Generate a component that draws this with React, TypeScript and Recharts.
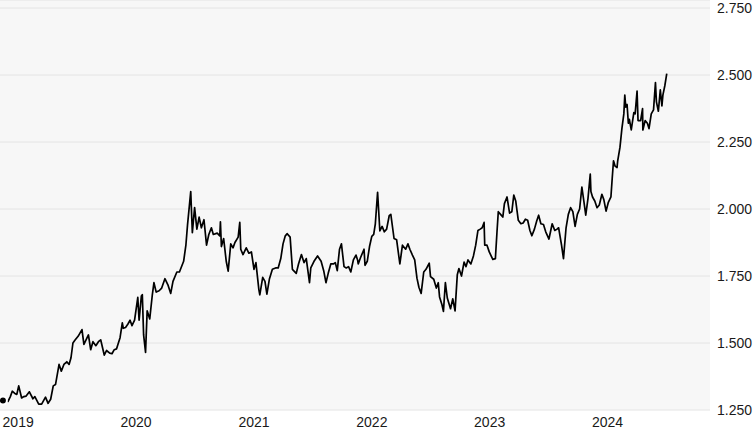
import { LineChart, Line, XAxis, YAxis, CartesianGrid } from "recharts";

// daily closes thinned out, price in thousands
const dates = [
  "2019-01-02", "2019-01-10", "2019-01-18", "2019-01-25", "2019-01-31", "2019-02-08", "2019-02-14", "2019-02-20",
  "2019-03-01", "2019-03-08", "2019-03-15", "2019-03-25", "2019-04-05", "2019-04-11", "2019-04-23", "2019-05-02",
  "2019-05-14", "2019-05-22", "2019-05-30", "2019-06-07", "2019-06-14", "2019-06-25", "2019-07-02", "2019-07-10",
  "2019-07-19", "2019-07-26", "2019-08-01", "2019-08-07", "2019-08-13", "2019-08-23", "2019-09-04", "2019-09-10",
  "2019-09-24", "2019-10-01", "2019-10-08", "2019-10-17", "2019-10-25", "2019-11-01", "2019-11-12", "2019-11-19",
  "2019-11-29", "2019-12-06", "2019-12-13", "2019-12-20", "2019-12-31",
  "2020-01-07", "2020-01-10", "2020-01-17", "2020-01-24", "2020-01-31", "2020-02-06", "2020-02-14", "2020-02-24",
  "2020-02-28", "2020-03-06", "2020-03-09", "2020-03-13", "2020-03-19", "2020-03-24", "2020-04-01", "2020-04-09",
  "2020-04-14", "2020-04-21", "2020-04-30", "2020-05-08", "2020-05-18", "2020-05-28", "2020-06-05", "2020-06-12",
  "2020-06-24", "2020-07-02", "2020-07-15", "2020-07-22", "2020-07-27", "2020-08-06", "2020-08-11", "2020-08-18",
  "2020-08-25", "2020-09-01", "2020-09-08", "2020-09-16", "2020-09-24", "2020-10-01", "2020-10-09", "2020-10-15",
  "2020-10-27", "2020-11-04", "2020-11-06", "2020-11-09", "2020-11-16", "2020-11-24", "2020-11-30", "2020-12-08",
  "2020-12-15", "2020-12-21", "2020-12-31",
  "2021-01-05", "2021-01-08", "2021-01-15", "2021-01-25", "2021-02-02", "2021-02-10", "2021-02-18", "2021-02-24",
  "2021-03-05", "2021-03-08", "2021-03-17", "2021-03-24", "2021-03-30", "2021-04-07", "2021-04-16", "2021-04-26",
  "2021-05-04", "2021-05-12", "2021-05-19", "2021-05-26", "2021-06-01", "2021-06-10", "2021-06-17", "2021-06-29",
  "2021-07-06", "2021-07-15", "2021-07-23", "2021-07-30", "2021-08-09", "2021-08-13", "2021-08-23", "2021-09-03",
  "2021-09-14", "2021-09-22", "2021-09-29", "2021-10-06", "2021-10-14", "2021-10-22", "2021-10-28", "2021-11-03",
  "2021-11-10", "2021-11-16", "2021-11-24", "2021-12-01", "2021-12-08", "2021-12-15", "2021-12-23", "2021-12-31",
  "2022-01-05", "2022-01-07", "2022-01-14", "2022-01-25", "2022-01-28", "2022-02-04", "2022-02-11", "2022-02-18",
  "2022-02-24", "2022-03-01", "2022-03-08", "2022-03-15", "2022-03-22", "2022-03-29", "2022-04-05", "2022-04-13",
  "2022-04-18", "2022-04-28", "2022-05-06", "2022-05-16", "2022-05-24", "2022-06-03", "2022-06-10", "2022-06-16",
  "2022-06-24", "2022-07-01", "2022-07-08", "2022-07-14", "2022-07-21", "2022-07-29", "2022-08-05", "2022-08-15",
  "2022-08-19", "2022-08-29", "2022-09-06", "2022-09-12", "2022-09-16", "2022-09-23", "2022-09-28", "2022-10-04",
  "2022-10-10", "2022-10-20", "2022-10-27", "2022-11-03", "2022-11-10", "2022-11-15", "2022-11-23", "2022-12-01",
  "2022-12-07", "2022-12-13", "2022-12-22", "2022-12-30",
  "2023-01-06", "2023-01-13", "2023-01-20", "2023-01-26", "2023-02-01", "2023-02-03", "2023-02-10", "2023-02-17",
  "2023-02-28", "2023-03-08", "2023-03-13", "2023-03-17", "2023-03-24", "2023-03-31", "2023-04-05", "2023-04-13",
  "2023-04-21", "2023-04-28", "2023-05-04", "2023-05-10", "2023-05-18", "2023-05-26", "2023-06-02", "2023-06-09",
  "2023-06-16", "2023-06-23", "2023-06-29", "2023-07-07", "2023-07-14", "2023-07-20", "2023-07-27", "2023-08-04",
  "2023-08-11", "2023-08-21", "2023-08-31", "2023-09-08", "2023-09-15", "2023-09-20", "2023-09-29", "2023-10-05",
  "2023-10-13", "2023-10-20", "2023-10-27", "2023-11-03", "2023-11-10", "2023-11-17", "2023-11-24", "2023-12-01",
  "2023-12-07", "2023-12-13", "2023-12-20", "2023-12-27", "2023-12-29",
  "2024-01-03", "2024-01-10", "2024-01-17", "2024-01-24", "2024-02-01", "2024-02-07", "2024-02-14", "2024-02-21",
  "2024-02-29", "2024-03-04", "2024-03-08", "2024-03-13", "2024-03-19", "2024-03-21", "2024-03-28", "2024-04-03",
  "2024-04-09", "2024-04-12", "2024-04-15", "2024-04-19", "2024-04-23", "2024-04-26", "2024-05-02", "2024-05-10",
  "2024-05-14", "2024-05-20", "2024-05-23", "2024-05-31", "2024-06-06", "2024-06-07", "2024-06-14", "2024-06-21",
  "2024-06-26", "2024-07-03", "2024-07-10", "2024-07-16", "2024-07-19", "2024-07-25", "2024-07-31", "2024-08-05",
  "2024-08-08", "2024-08-14", "2024-08-20",
];

const prices = [
  1.285, 1.290, 1.282, 1.300, 1.320, 1.312, 1.308, 1.340,
  1.295, 1.300, 1.302, 1.318, 1.292, 1.300, 1.272, 1.272,
  1.298, 1.275, 1.290, 1.340, 1.345, 1.420, 1.395, 1.420,
  1.430, 1.420, 1.445, 1.500, 1.510, 1.525, 1.550, 1.495,
  1.530, 1.475, 1.505, 1.490, 1.505, 1.512, 1.455, 1.472,
  1.462, 1.460, 1.475, 1.478, 1.520,
  1.575, 1.555, 1.558, 1.570, 1.585, 1.565, 1.585, 1.670,
  1.585, 1.675, 1.680, 1.530, 1.465, 1.620, 1.590, 1.680,
  1.725, 1.690, 1.695, 1.705, 1.740, 1.715, 1.685, 1.730,
  1.765, 1.765, 1.805, 1.865, 1.940, 2.065, 1.912, 2.005,
  1.925, 1.970, 1.930, 1.960, 1.865, 1.905, 1.930, 1.905,
  1.910, 1.900, 1.952, 1.860, 1.890, 1.805, 1.768, 1.870,
  1.855, 1.875, 1.895,
  1.950, 1.850, 1.830, 1.855, 1.835, 1.840, 1.775, 1.800,
  1.700, 1.680, 1.745, 1.730, 1.682, 1.740, 1.775, 1.780,
  1.780, 1.815, 1.870, 1.900, 1.908, 1.895, 1.775, 1.760,
  1.795, 1.830, 1.800, 1.815, 1.725, 1.780, 1.805, 1.825,
  1.805, 1.770, 1.725, 1.760, 1.795, 1.795, 1.800, 1.770,
  1.850, 1.870, 1.785, 1.780, 1.785, 1.765, 1.810, 1.828,
  1.810, 1.795, 1.818, 1.850, 1.790, 1.805, 1.860, 1.898,
  1.905, 1.945, 2.062, 1.918, 1.935, 1.915, 1.925, 1.975,
  1.980, 1.890, 1.885, 1.795, 1.865, 1.850, 1.870, 1.850,
  1.828, 1.810, 1.742, 1.708, 1.685, 1.765, 1.775, 1.798,
  1.748, 1.738, 1.705, 1.725, 1.672, 1.645, 1.618, 1.725,
  1.668, 1.628, 1.665, 1.620, 1.755, 1.778, 1.750, 1.802,
  1.785, 1.810, 1.795, 1.825,
  1.865, 1.920, 1.925, 1.930, 1.950, 1.865, 1.865, 1.840,
  1.812, 1.815, 1.915, 1.990, 1.980, 1.970, 2.020, 2.045,
  1.985, 1.990, 2.052, 2.030, 1.958, 1.945, 1.948, 1.962,
  1.958, 1.920, 1.900, 1.925, 1.955, 1.977, 1.945, 1.942,
  1.915, 1.888, 1.945, 1.920, 1.925, 1.930, 1.865, 1.815,
  1.930, 1.980, 2.005, 1.990, 1.935, 1.980, 2.000, 2.082,
  2.030, 1.977, 2.040, 2.130, 2.065,
  2.045, 2.030, 2.005, 2.015, 2.055, 2.035, 1.992, 2.025,
  2.045, 2.115, 2.180, 2.160, 2.155, 2.180, 2.230, 2.300,
  2.355, 2.425, 2.380, 2.390, 2.320, 2.335, 2.295, 2.360,
  2.355, 2.440, 2.330, 2.330, 2.375, 2.295, 2.330, 2.320,
  2.300, 2.355, 2.370, 2.472, 2.400, 2.365, 2.445, 2.385,
  2.425, 2.460, 2.505,
];

const yearTicks = [2019, 2020, 2021, 2022, 2023, 2024];
const priceTicks = [1.25, 1.5, 1.75, 2.0, 2.25, 2.5, 2.75];

const data = dates.map((d, i) => ({ t: Date.parse(d), price: prices[i] }));
const xStart = Date.UTC(2018, 11, 24);
const xEnd = Date.UTC(2025, 0, 1);
const font = "'Liberation Sans', Arial, sans-serif";

const YearTick = ({ x, y, payload }: any) => (
  <text x={x} y={y + 17} textAnchor="start" fontSize={14} fill="#1a1a1a" fontFamily={font}>
    {new Date(payload.value).getUTCFullYear()}
  </text>
);

const PriceTick = ({ x, y, payload }: any) => (
  <text x={x} y={y} dy={5} textAnchor="start" fontSize={14} fill="#1a1a1a" fontFamily={font}>
    {Number(payload.value).toFixed(3)}
  </text>
);

export default function App() {
  return (
    <div>
      <style>{"body{margin:0;background:#fff}"}</style>
      <LineChart width={753} height={430} data={data} margin={{ top: 0, right: 0, bottom: 0, left: 0 }}>
        <CartesianGrid vertical={false} stroke="#e4e4e4" fill="#f7f7f7" fillOpacity={1} />
        <XAxis
          dataKey="t"
          type="number"
          domain={[xStart, xEnd]}
          ticks={yearTicks.map((y) => Date.UTC(y, 0, 1))}
          interval={0}
          allowDataOverflow
          height={20}
          axisLine={false}
          tickLine={false}
          tickSize={0}
          tickMargin={0}
          tick={<YearTick />}
        />
        <YAxis
          orientation="right"
          type="number"
          domain={[1.25, 2.78]}
          ticks={priceTicks}
          interval={0}
          allowDataOverflow
          width={43}
          axisLine={false}
          tickLine={false}
          tickSize={0}
          tickMargin={7}
          tick={<PriceTick />}
        />
        <Line
          type="linear"
          dataKey="price"
          stroke="#000"
          strokeWidth={1.7}
          strokeLinejoin="round"
          dot={false}
          isAnimationActive={false}
        />
      </LineChart>
    </div>
  );
}
